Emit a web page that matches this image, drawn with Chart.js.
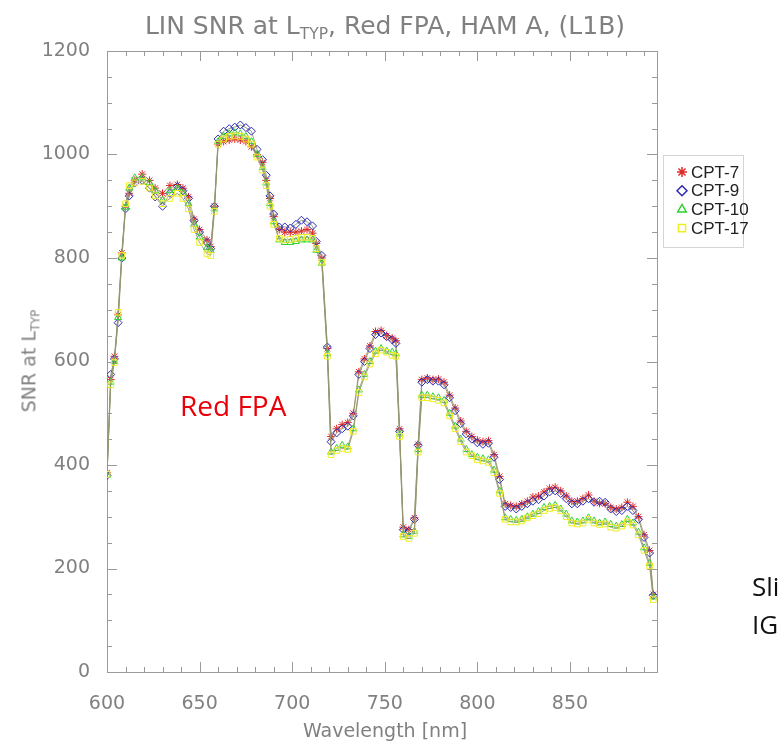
<!DOCTYPE html>
<html>
<head>
<meta charset="utf-8">
<title>LIN SNR at LTYP, Red FPA, HAM A, (L1B)</title>
<script src="https://cdn.jsdelivr.net/npm/chart.js@4.4.1/dist/chart.umd.min.js"></script>
<style>
  body { margin: 0; background: #fff; }
  #wrap { position: relative; width: 782px; height: 752px; overflow: hidden; background: #fff; }
  #snrChart { position: absolute; left: 0; top: 0; }
  .lbl { position: absolute; white-space: nowrap; font-family: 'DejaVu Sans ExtraLight', 'DejaVu Sans', sans-serif; color: #808080; }
  .lbl sub { font-size: 62%; vertical-align: -0.35em; }
  #title { left: 0; width: 770px; top: 11px; text-align: center; font-size: 25px; }
  #yTitle { left: 30px; top: 361px; font-size: 19px; transform: translate(-50%, -50%) rotate(-90deg); }
  #xTitle { left: 385px; top: 730px; font-size: 19px; transform: translate(-50%, -50%); }
  .slide { position: absolute; white-space: nowrap; font-family: 'Open Sans', 'Noto Sans', sans-serif; font-size: 26px; }
  #fpa { left: 180px; top: 386px; color: #e8000b; font-size: 28px; }
  #sli { left: 752px; top: 568px; color: #111; }
  #ig { left: 752px; top: 606px; color: #111; }
</style>
</head>
<body>
<div id="wrap">
  <canvas id="snrChart" width="782" height="752"></canvas>
  <div class="lbl" id="title">LIN SNR at L<sub>TYP</sub>, Red FPA, HAM A, (L1B)</div>
  <div class="lbl" id="yTitle">SNR at L<sub>TYP</sub></div>
  <div class="lbl" id="xTitle">Wavelength [nm]</div>
  <div class="slide" id="fpa">Red FPA</div>
  <div class="slide" id="sli">Sli</div>
  <div class="slide" id="ig">IG</div>
</div>
<script>
// wavelength samples [nm]
const wavelengths = [
  600, 602, 604, 606, 608, 610, 612, 615, 619, 623,
  626, 630, 634, 638, 641, 644, 647, 650, 654, 656,
  658, 660, 663, 666, 669, 672, 675, 678, 681, 684,
  686, 688, 690, 693, 696, 699, 702, 705, 708, 711,
  713, 716, 719, 721, 724, 727, 730, 733, 736, 739,
  742, 745, 748, 751, 754, 756, 758, 760, 763, 766,
  768, 770, 773, 776, 779, 782, 785, 788, 791, 794,
  797, 800, 803, 806, 809, 812, 815, 818, 821, 824,
  827, 830, 833, 836, 839, 842, 845, 848, 851, 854,
  857, 860, 863, 866, 869, 872, 875, 878, 881, 884,
  887, 890, 893, 895
];

const cpt7 = [
  385, 565, 610, 690, 810, 900, 925, 950, 962, 950,
  935, 925, 940, 942, 935, 918, 875, 855, 835, 822,
  900, 1020, 1025, 1028, 1030, 1028, 1025, 1015, 1000, 985,
  950, 915, 880, 855, 850, 850, 850, 852, 855, 848,
  828, 800, 625, 455, 470, 478, 482, 500, 580, 605,
  630, 658, 660, 650, 645, 640, 470, 280, 275, 298,
  440, 565, 568, 565, 566, 560, 535, 510, 485, 465,
  455, 448, 445, 447, 420, 378, 325, 322, 320, 325,
  330, 338, 340, 348, 355, 357, 350, 340, 330, 330,
  335, 342, 330, 326, 325, 318, 315, 318, 328, 320,
  300, 265, 235, 150
];

const cpt9 = [
  380, 575, 605, 675, 800, 895, 920, 945, 950, 935,
  918, 900, 925, 938, 930, 915, 872, 850, 830, 818,
  900, 1030, 1045, 1050, 1053, 1057, 1052, 1045, 1010, 990,
  960, 920, 885, 860, 860, 858, 865, 873, 870, 862,
  832, 805, 628, 445, 462, 470, 475, 495, 575, 600,
  625, 652, 655, 648, 642, 635, 465, 275, 272, 295,
  438, 560, 565, 562, 562, 555, 530, 505, 480, 460,
  450, 443, 440, 442, 415, 372, 320, 318, 315, 320,
  325, 330, 333, 340, 348, 350, 345, 335, 325, 325,
  330, 335, 328, 330, 328, 315, 310, 312, 320, 312,
  295, 260, 230, 148
];

const cpt10 = [
  380, 560, 600, 685, 800, 898, 935, 955, 955, 945,
  930, 912, 930, 935, 925, 905, 865, 840, 820, 815,
  895, 1025, 1035, 1040, 1042, 1040, 1035, 1025, 1000, 975,
  945, 905, 870, 835, 830, 830, 832, 835, 835, 835,
  815, 790, 615, 425, 432, 438, 435, 470, 545, 575,
  600, 620, 625, 620, 618, 615, 460, 265, 262, 272,
  430, 535, 535, 532, 530, 525, 500, 475, 450, 430,
  420, 415, 412, 410, 390, 350, 298, 295, 293, 295,
  300, 305, 310, 318, 320, 322, 315, 305, 292, 290,
  292, 298, 292, 288, 290, 285, 282, 285, 295, 288,
  270, 240, 210, 145
];

const cpt17 = [
  382, 555, 598, 695, 805, 905, 940, 945, 948, 935,
  920, 905, 915, 925, 915, 895, 855, 830, 808, 805,
  890, 1020, 1030, 1035, 1036, 1035, 1030, 1020, 995, 970,
  940, 900, 865, 838, 835, 836, 838, 840, 840, 838,
  818, 792, 610, 420, 428, 432, 430, 465, 540, 570,
  595, 615, 622, 618, 612, 610, 455, 262, 258, 268,
  425, 530, 530, 528, 525, 520, 495, 470, 445, 425,
  418, 410, 408, 405, 385, 345, 295, 290, 290, 292,
  298, 302, 306, 312, 316, 318, 312, 300, 288, 286,
  288, 295, 288, 285, 286, 280, 278, 282, 290, 284,
  265, 235, 205, 140
];

const seriesLabels = ['CPT-7', 'CPT-9', 'CPT-10', 'CPT-17'];
const xTickValues = [600, 650, 700, 750, 800, 850];
const yTickValues = [0, 200, 400, 600, 800, 1000, 1200];

const lineColor = 'rgba(150, 150, 112, 0.9)';
const markers = [
  { style: 'star', color: '#e02a2a' },
  { style: 'rectRot', color: '#2a2ab4' },
  { style: 'triangle', color: '#2fd12f' },
  { style: 'rect', color: '#eeee22' }
];
const seriesValues = [cpt7, cpt9, cpt10, cpt17];

const datasets = seriesValues.map((vals, i) => ({
  label: seriesLabels[i],
  data: wavelengths.map((w, j) => ({ x: w, y: vals[j] })),
  borderColor: lineColor,
  borderWidth: 1,
  tension: 0,
  pointStyle: markers[i].style,
  pointRadius: 4,
  pointBorderWidth: 1,
  pointBorderColor: markers[i].color,
  pointBackgroundColor: 'rgba(0,0,0,0)',
  order: 3 - i
}));

// IDL-style frame with inward ticks on all four sides
const frameTicks = {
  id: 'frameTicks',
  beforeDatasetsDraw(chart) {
    const { ctx, chartArea: a, scales } = chart;
    ctx.save();
    ctx.strokeStyle = '#9a9a9a';
    ctx.lineWidth = 1;
    ctx.strokeRect(a.left + 0.5, a.top + 0.5, a.right - a.left, a.bottom - a.top);
    ctx.beginPath();
    for (let v = 600; v <= 890; v += 10) {
      const x = Math.round(scales.x.getPixelForValue(v)) + 0.5;
      const len = xTickValues.includes(v) ? 10 : 5;
      ctx.moveTo(x, a.bottom); ctx.lineTo(x, a.bottom - len);
      ctx.moveTo(x, a.top); ctx.lineTo(x, a.top + len);
    }
    for (let v = 0; v <= 1200; v += 50) {
      const y = Math.round(scales.y.getPixelForValue(v)) + 0.5;
      const len = yTickValues.includes(v) ? 10 : 5;
      ctx.moveTo(a.left, y); ctx.lineTo(a.left + len, y);
      ctx.moveTo(a.right, y); ctx.lineTo(a.right - len, y);
    }
    ctx.stroke();
    ctx.restore();
  }
};

// legend box to the right of the plot
const sideLegend = {
  id: 'sideLegend',
  afterDraw(chart) {
    const ctx = chart.ctx;
    ctx.save();
    ctx.strokeStyle = '#d4d4d4';
    ctx.lineWidth = 1;
    ctx.strokeRect(663.5, 155.5, 80, 92);
    ctx.font = '17px "Liberation Sans", Arial, sans-serif';
    ctx.textBaseline = 'middle';
    seriesLabels.forEach((lab, i) => {
      const y = 172 + i * 18.7;
      ctx.strokeStyle = markers[i].color;
      ctx.fillStyle = 'rgba(0,0,0,0)';
      ctx.lineWidth = 1.5;
      Chart.helpers.drawPoint(ctx, { pointStyle: markers[i].style, radius: 5, rotation: 0, borderWidth: 1.5 }, 682, y);
      ctx.fillStyle = '#222';
      ctx.fillText(lab, 691, y + 1);
    });
    ctx.restore();
  }
};

const tickFont = { family: "'DejaVu Sans ExtraLight', 'DejaVu Sans', sans-serif", size: 19 };

new Chart(document.getElementById('snrChart'), {
  type: 'line',
  data: { datasets: datasets },
  options: {
    responsive: false,
    animation: false,
    layout: { padding: { top: 51, right: 125, left: 0, bottom: 0 } },
    plugins: {
      legend: { display: false },
      title: { display: false },
      tooltip: { enabled: false }
    },
    scales: {
      x: {
        type: 'linear',
        min: 600,
        max: 897,
        grid: { display: false },
        border: { display: false },
        afterBuildTicks: s => { s.ticks = xTickValues.map(v => ({ value: v })); },
        afterFit: s => { s.height = 80; },
        ticks: { color: '#808080', font: tickFont, padding: 13, maxRotation: 0, callback: v => String(v) }
      },
      y: {
        min: 0,
        max: 1200,
        grid: { display: false },
        border: { display: false },
        afterBuildTicks: s => { s.ticks = yTickValues.map(v => ({ value: v })); },
        afterFit: s => { s.width = 107; },
        ticks: { color: '#808080', font: tickFont, padding: 9, callback: v => String(v) }
      }
    }
  },
  plugins: [frameTicks, sideLegend]
});
</script>
</body>
</html>
